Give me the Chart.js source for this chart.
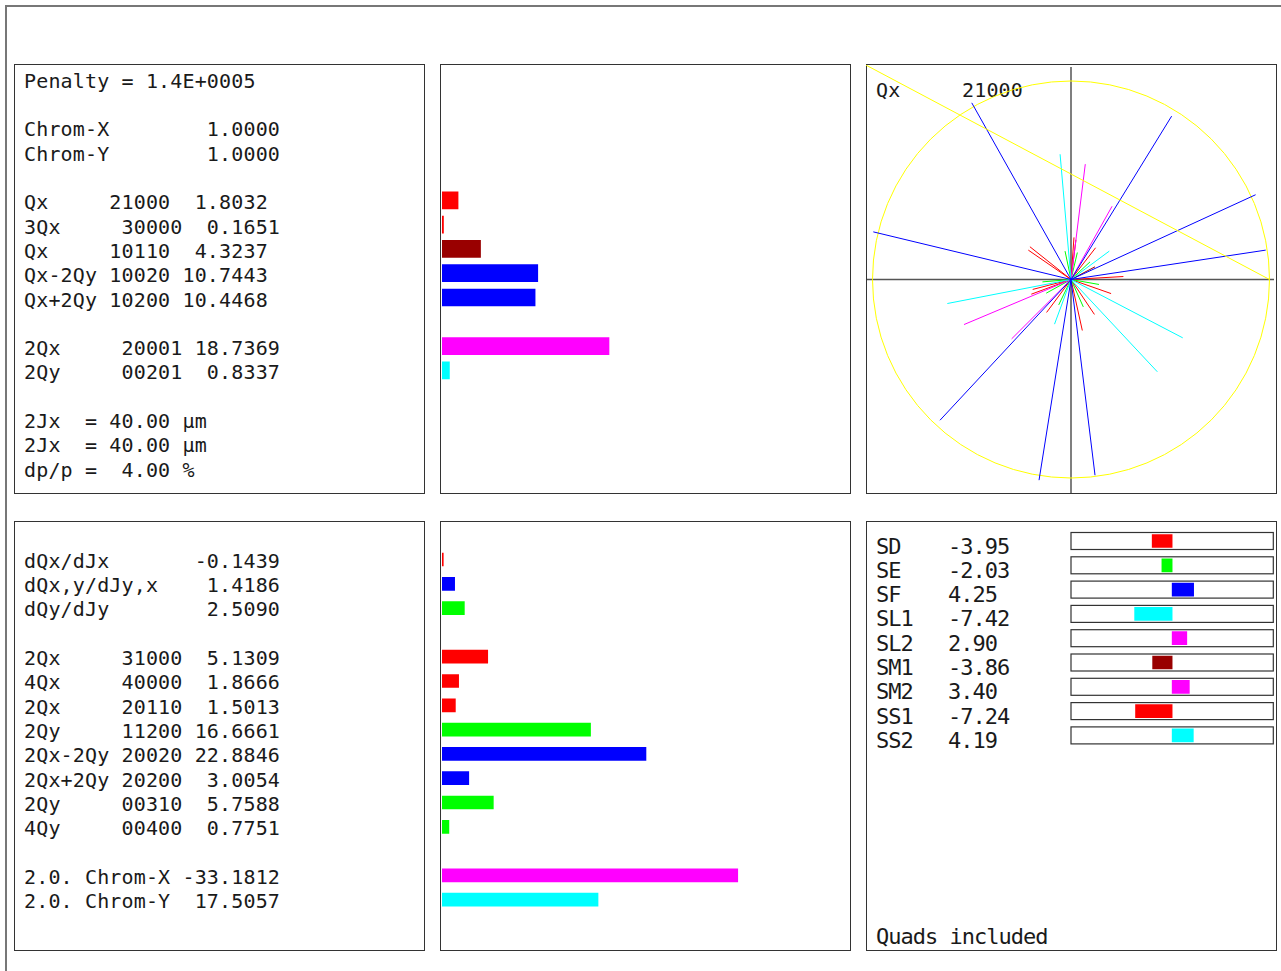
<!DOCTYPE html>
<html>
<head>
<meta charset="utf-8">
<title>Resonance driving terms</title>
<script src="https://cdn.jsdelivr.net/npm/chart.js@4.4.1/dist/chart.umd.min.js"></script>
<style>
  html, body { margin: 0; padding: 0; background: #fff; }
  body { width: 1281px; height: 971px; overflow: hidden; position: relative; }
  .outer { position: absolute; left: 5px; top: 5px; width: 1400px; height: 1100px;
           border-top: 2px solid #777; border-left: 2px solid #777; }
  .frame { position: absolute; border: 1px solid #333; box-sizing: border-box; }
  canvas { position: absolute; }
  pre { position: absolute; margin: 0; font-family: 'DejaVu Sans Mono', monospace;
        font-size: 20px; line-height: 24.3px; letter-spacing: 0.15px; color: #1a1a1a; }
  pre.big { font-size: 22px; letter-spacing: -1px; }
</style>
</head>
<body>
<div class="outer"></div>
<div class="frame" style="left:14px;top:64px;width:411px;height:430px"></div>
<div class="frame" style="left:440px;top:64px;width:411px;height:430px"></div>
<div class="frame" style="left:866px;top:64px;width:411px;height:430px"></div>
<div class="frame" style="left:14px;top:521px;width:411px;height:430px"></div>
<div class="frame" style="left:440px;top:521px;width:411px;height:430px"></div>
<div class="frame" style="left:866px;top:521px;width:411px;height:430px"></div>

<pre id="topText" style="left:24px;top:68.9px"></pre>
<pre id="bottomText" style="left:24px;top:524.6px"></pre>
<pre id="phasorName" style="left:876px;top:78.4px"></pre>
<pre id="phasorCode" style="left:962px;top:78.4px"></pre>
<pre id="knobNames" class="big" style="left:876px;top:534.5px"></pre>
<pre id="knobText" class="big" style="left:948px;top:534.5px"></pre>
<pre id="footer" class="big" style="left:876px;top:925.2px">Quads included</pre>

<canvas id="topBars" width="412" height="429" style="left:440px;top:65px"></canvas>
<canvas id="bottomBars" width="412" height="430" style="left:440px;top:521px"></canvas>
<canvas id="phasor" width="410" height="429" style="left:866px;top:65px"></canvas>
<canvas id="knobs" width="207" height="240" style="left:1069px;top:521px"></canvas>

<script>
const RED = '#ff0000', DARKRED = '#990000', BLUE = '#0000ff', GREEN = '#00ff00',
      MAGENTA = '#ff00ff', CYAN = '#00ffff', YELLOW = '#ffff00';

// upper panel
const penaltyLabel = '1.4E+0005';
const chromNames = ['Chrom-X', 'Chrom-Y'];
const chromValues = [1.0000, 1.0000];

const resNames = ['Qx', '3Qx', 'Qx', 'Qx-2Qy', 'Qx+2Qy'];
const resCodes = ['21000', '30000', '10110', '10020', '10200'];
const resValues = [1.8032, 0.1651, 4.3237, 10.7443, 10.4468];
const resColors = [RED, RED, DARKRED, BLUE, BLUE];

const harmNames = ['2Qx', '2Qy'];
const harmCodes = ['20001', '00201'];
const harmValues = [18.7369, 0.8337];
const harmColors = [MAGENTA, CYAN];

const ampNames = ['2Jx', '2Jx', 'dp/p'];
const ampValues = [40.00, 40.00, 4.00];
const ampUnits = ['μm', 'μm', '%'];

// lower panel
const detNames = ['dQx/dJx', 'dQx,y/dJy,x', 'dQy/dJy'];
const detValues = [-0.1439, 1.4186, 2.5090];
const detColors = [RED, BLUE, GREEN];

const res2Names = ['2Qx', '4Qx', '2Qx', '2Qy', '2Qx-2Qy', '2Qx+2Qy', '2Qy', '4Qy'];
const res2Codes = ['31000', '40000', '20110', '11200', '20020', '20200', '00310', '00400'];
const res2Values = [5.1309, 1.8666, 1.5013, 16.6661, 22.8846, 3.0054, 5.7588, 0.7751];
const res2Colors = [RED, RED, RED, GREEN, BLUE, BLUE, GREEN, GREEN];

const chrom2Names = ['2.0. Chrom-X', '2.0. Chrom-Y'];
const chrom2Values = [-33.1812, 17.5057];
const chrom2Colors = [MAGENTA, CYAN];

// sextupole families
const knobNames = ['SD', 'SE', 'SF', 'SL1', 'SL2', 'SM1', 'SM2', 'SS1', 'SS2'];
const knobValues = [-3.95, -2.03, 4.25, -7.42, 2.90, -3.86, 3.40, -7.24, 4.19];
const knobColors = [RED, GREEN, BLUE, CYAN, MAGENTA, DARKRED, MAGENTA, RED, CYAN];

// phasor tips (normalised to the unit circle), grouped by colour
const blueRays = [[-0.500, 0.890], [0.507, 0.823], [0.930, 0.427], [0.981, 0.148],
                  [-0.996, 0.240], [-0.660, -0.709], [-0.161, -1.011], [0.121, -0.986]];
const cyanRays = [[-0.055, 0.631], [0.193, 0.143], [0.563, -0.294], [0.435, -0.465],
                  [-0.623, -0.121], [-0.083, -0.225]];
const magentaRays = [[0.072, 0.581], [0.207, 0.369], [-0.539, -0.227], [-0.299, -0.299]];
const redRays = [[-0.207, 0.165], [-0.215, 0.148], [0.015, 0.212], [0.025, 0.200],
                 [0.124, 0.160], [0.264, 0.015], [0.202, -0.071], [0.118, -0.176],
                 [0.057, -0.257], [-0.123, -0.166], [-0.200, -0.074], [-0.193, -0.050]];
const greenRays = [[-0.030, 0.143], [0.032, 0.136], [0.096, 0.089], [0.141, -0.025],
                   [-0.144, -0.012], [-0.125, -0.069], [-0.062, -0.128], [0.062, -0.138]];
const darkRedRays = [[0.121, 0.064]];
const resonanceLine = [[1.0, 0.0], [-1.04, 1.084]];
const circleRadius = 1;

const nameCol = n => /^\d/.test(n) ? 8 : 7;
const blank = { text: '' };

function resonanceRows(names, codes, values, colors) {
    return names.map((n, i) => ({
        text: n.padEnd(nameCol(n)) + codes[i] + values[i].toFixed(4).padStart(8),
        value: values[i], color: colors[i]
    }));
}

function valueRows(names, values, colors) {
    return names.map((n, i) => ({
        text: n.padEnd(13) + values[i].toFixed(4).padStart(8),
        value: colors ? values[i] : null, color: colors ? colors[i] : null
    }));
}

const topRows = [
    { text: 'Penalty = ' + penaltyLabel },
    blank,
    ...valueRows(chromNames, chromValues),
    blank,
    ...resonanceRows(resNames, resCodes, resValues, resColors),
    blank,
    ...resonanceRows(harmNames, harmCodes, harmValues, harmColors),
    blank,
    ...ampNames.map((n, i) => ({ text: n.padEnd(5) + '= ' + ampValues[i].toFixed(2).padStart(5) + ' ' + ampUnits[i] }))
];

const bottomRows = [
    blank,
    ...valueRows(detNames, detValues, detColors),
    blank,
    ...resonanceRows(res2Names, res2Codes, res2Values, res2Colors),
    blank,
    ...valueRows(chrom2Names, chrom2Values, chrom2Colors)
];

document.getElementById('topText').textContent = topRows.map(r => r.text).join('\n');
document.getElementById('bottomText').textContent = bottomRows.map(r => r.text).join('\n');
document.getElementById('phasorName').textContent = resNames[0];
document.getElementById('phasorCode').textContent = resCodes[0];
document.getElementById('knobNames').textContent = knobNames.join('\n');
document.getElementById('knobText').textContent = knobValues.map(v => v.toFixed(2)).join('\n');

const quiet = {
    responsive: false,
    animation: false,
    events: [],
    plugins: { legend: { display: false }, tooltip: { enabled: false } }
};

// bar length is the magnitude of each term
function barChart(id, rows, thickness, padding) {
    return new Chart(document.getElementById(id), {
        type: 'bar',
        data: {
            labels: rows.map(r => r.text),
            datasets: [{
                data: rows.map(r => r.value == null ? null : Math.abs(r.value)),
                backgroundColor: rows.map(r => r.color || 'transparent'),
                borderWidth: 0,
                barThickness: thickness
            }]
        },
        options: {
            ...quiet,
            indexAxis: 'y',
            layout: { padding },
            scales: {
                x: { type: 'linear', min: 0, max: 46, display: false },
                y: { display: false }
            }
        }
    });
}

barChart('topBars', topRows, 17, { left: 2, right: 0, top: 1.65, bottom: 14.25 });
barChart('bottomBars', bottomRows, 13, { left: 2, right: 0, top: 2.05, bottom: 39.15 });

// outline box behind each knob bar, spanning the whole range
const knobBoxes = {
    id: 'knobBoxes',
    afterDatasetsDraw(chart) {
        const { ctx, scales: { x, y } } = chart;
        ctx.save();
        ctx.strokeStyle = '#333';
        ctx.lineWidth = 1.2;
        knobNames.forEach((n, i) => {
            const cy = y.getPixelForValue(i);
            ctx.strokeRect(x.left, cy - 8.5, x.right - x.left, 17);
        });
        ctx.restore();
    }
};

new Chart(document.getElementById('knobs'), {
    type: 'bar',
    data: {
        labels: knobNames,
        datasets: [{
            data: knobValues,
            backgroundColor: knobColors,
            borderWidth: 0,
            barThickness: 13
        }]
    },
    options: {
        ...quiet,
        indexAxis: 'y',
        layout: { padding: { left: 2, right: 2.7, top: 7.85, bottom: 13.45 } },
        scales: {
            x: { type: 'linear', min: -20, max: 20, display: false },
            y: { display: false }
        }
    },
    plugins: [knobBoxes]
});

// circle and cross hairs of the phasor plot
const phasorGuides = {
    id: 'phasorGuides',
    beforeDatasetsDraw(chart) {
        const { ctx, chartArea: a, scales: { x, y } } = chart;
        const cx = x.getPixelForValue(0), cy = y.getPixelForValue(0);
        const r = x.getPixelForValue(circleRadius) - cx;
        ctx.save();
        ctx.strokeStyle = '#555';
        ctx.lineWidth = 1.5;
        ctx.beginPath();
        ctx.moveTo(cx, a.top + 2); ctx.lineTo(cx, a.bottom - 1);
        ctx.moveTo(a.left + 1, cy); ctx.lineTo(a.right - 2, cy);
        ctx.stroke();
        ctx.strokeStyle = YELLOW;
        ctx.lineWidth = 1;
        ctx.beginPath();
        ctx.arc(cx, cy, r, 0, 2 * Math.PI);
        ctx.stroke();
        ctx.restore();
    }
};

function rays(list, color) {
    return list.map(([x, y]) => ({
        data: [{ x: 0, y: 0 }, { x, y }],
        showLine: true, borderColor: color, borderWidth: 1, pointRadius: 0
    }));
}

new Chart(document.getElementById('phasor'), {
    type: 'scatter',
    data: {
        datasets: [
            { data: resonanceLine.map(([x, y]) => ({ x, y })), showLine: true,
              borderColor: YELLOW, borderWidth: 1, pointRadius: 0 },
            ...rays(blueRays, BLUE),
            ...rays(cyanRays, CYAN),
            ...rays(magentaRays, MAGENTA),
            ...rays(greenRays, GREEN),
            ...rays(redRays, RED),
            ...rays(darkRedRays, DARKRED)
        ]
    },
    options: {
        ...quiet,
        layout: { padding: 0 },
        scales: {
            x: { type: 'linear', min: -205 / 198.5, max: 205 / 198.5, display: false },
            y: { type: 'linear', min: -214.5 / 198.5, max: 214.5 / 198.5, display: false }
        }
    },
    plugins: [phasorGuides]
});
</script>
</body>
</html>
